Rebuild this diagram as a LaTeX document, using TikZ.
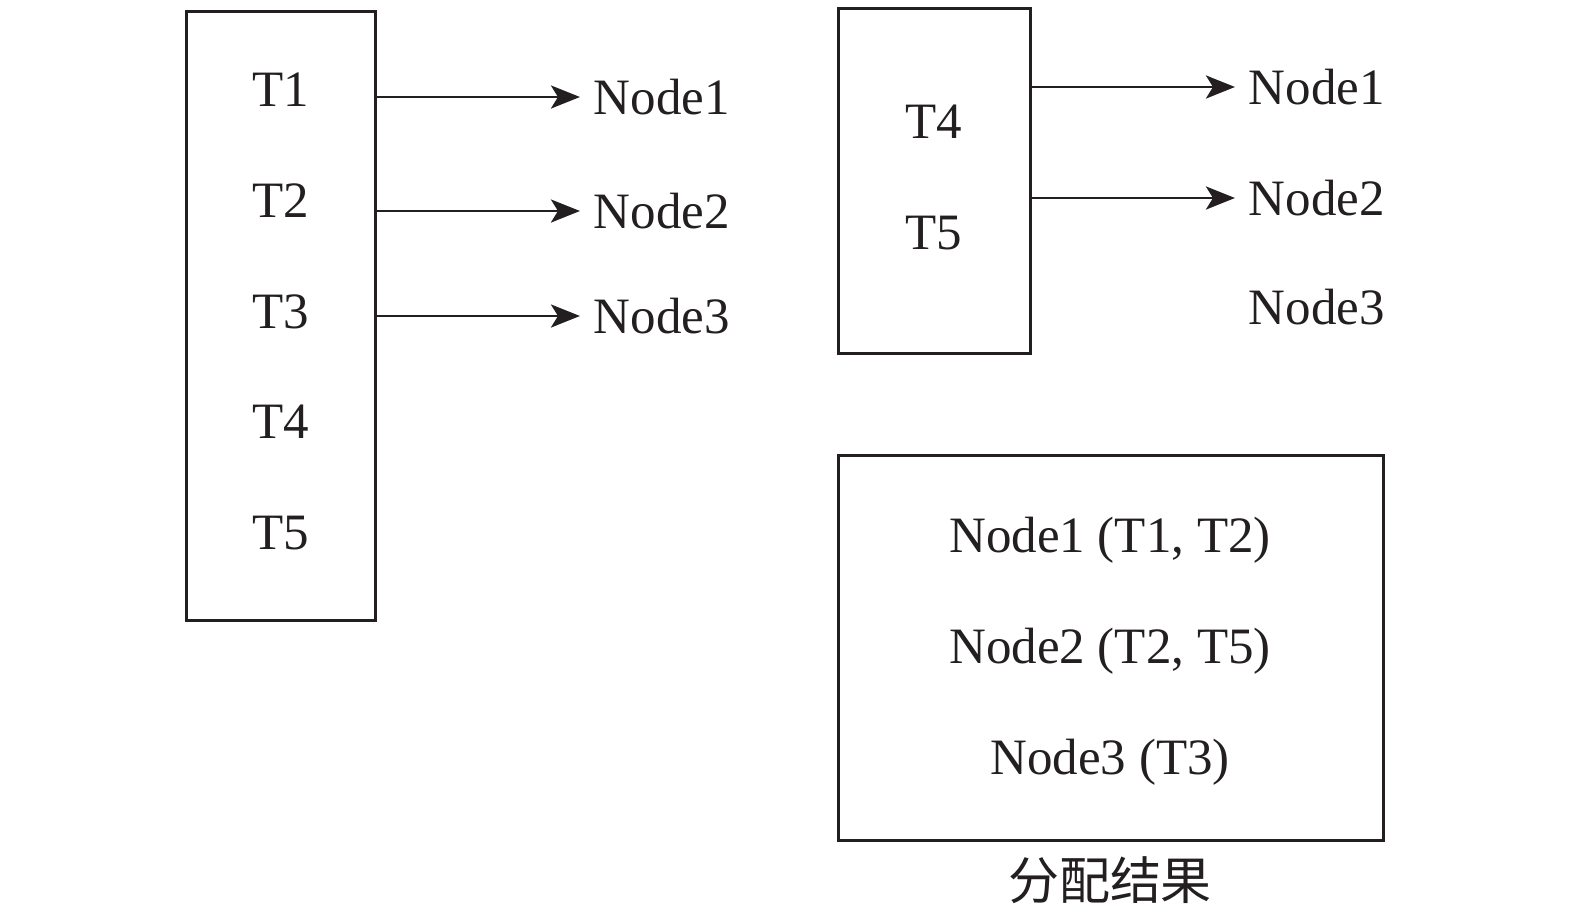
\documentclass[tikz,border=0pt]{standalone}
\usepackage{fontspec}
\setmainfont{Liberation Serif}
\newfontfamily\cjk{Noto Sans CJK SC}
\usetikzlibrary{arrows.meta,positioning}
\definecolor{ink}{HTML}{231F20}
\tikzset{
  taskbox/.style={draw=ink, line width=0.85pt, inner sep=0pt},
  lbl/.style={text=ink, inner sep=0pt, font=\fontsize{14.5}{17}\selectfont},
  nodelbl/.style={lbl, anchor=west, inner xsep=0.13cm},
  arr/.style={-{Stealth[length=2.9mm, width=2.3mm, inset=0.7mm]}, line width=0.85pt, draw=ink}
}
\begin{document}
\begin{tikzpicture}[x=0.01cm,y=-0.01cm]
  \useasboundingbox (0,0) rectangle (1575,918);
  % before: all tasks
  \node[taskbox, minimum width=1.88cm, minimum height=6.08cm] (pool) at (281,316) {};
  \foreach \i/\y in {1/90,2/201,3/312,4/422,5/533}
    \node[lbl] (t\i) at (281,\y) {T\i};
  \foreach \i/\y in {1/97,2/211,3/316}
    \node[nodelbl] (n\i) at (580,\y) {Node\i};
  \foreach \i in {1,2,3}
    \draw[arr] (pool.east |- n\i.west) -- (n\i.west);
  % remaining tasks
  \node[taskbox, minimum width=1.91cm, minimum height=3.44cm] (rest) at (934.5,181) {};
  \node[lbl] (r4) at (934,122) {T4};
  \node[lbl] (r5) at (934,233) {T5};
  \node[nodelbl] (m1) at (1235,87) {Node1};
  \node[nodelbl] (m2) at (1235,198) {Node2};
  \node[nodelbl] (m3) at (1235,307) {Node3};
  \draw[arr] (rest.east |- m1.west) -- (m1.west);
  \draw[arr] (rest.east |- m2.west) -- (m2.west);
  % result
  \node[taskbox, minimum width=5.44cm, minimum height=3.84cm] (res) at (1111,648) {};
  \node[lbl, anchor=base] (a1) at (1110,552) {Node1 (T1, T2)};
  \node[lbl, anchor=base] (a2) at (1110,663) {Node2 (T2, T5)};
  \node[lbl, anchor=base] (a3) at (1110,774) {Node3 (T3)};
  \node[lbl, font=\cjk\fontsize{14.5}{17}\selectfont] (cap) at (1110,880) {分配结果};
\end{tikzpicture}
\end{document}
